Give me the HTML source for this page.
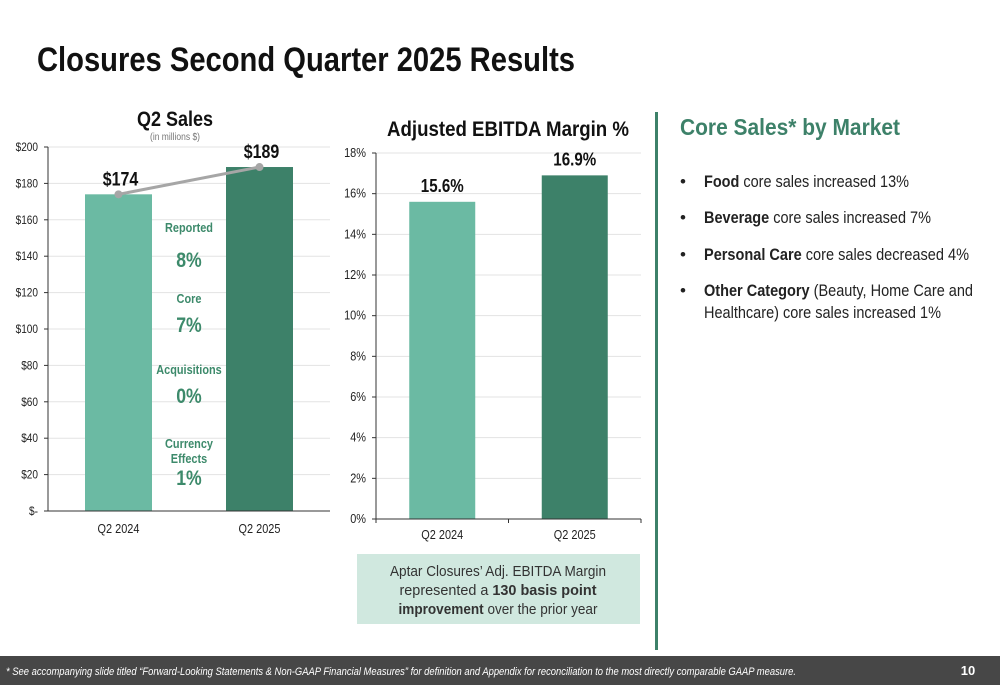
<!DOCTYPE html>
<html><head><meta charset="utf-8"><style>
body{margin:0;background:#fff;}
svg{display:block;font-family:"Liberation Sans",sans-serif;}
</style></head><body>
<svg id="s" width="1000" height="685" viewBox="0 0 1000 685">
<text x="37" y="71" font-size="34" font-weight="bold" fill="#111" textLength="538" lengthAdjust="spacingAndGlyphs">Closures Second Quarter 2025 Results</text>

<g id="c1">
<text x="175" y="126" font-size="21" font-weight="bold" text-anchor="middle" fill="#111" textLength="76" lengthAdjust="spacingAndGlyphs">Q2 Sales</text>
<text x="175" y="140" font-size="10" text-anchor="middle" fill="#777" textLength="50" lengthAdjust="spacingAndGlyphs">(in millions $)</text>
</g>
<g id="c2">
<text x="508" y="136" font-size="21" font-weight="bold" text-anchor="middle" fill="#111" textLength="242" lengthAdjust="spacingAndGlyphs">Adjusted EBITDA Margin %</text>
</g>

<rect x="357" y="554" width="283" height="70" fill="#d0e8df"/>
<g font-size="15" fill="#333" text-anchor="middle">
<text x="498" y="576" textLength="216" lengthAdjust="spacingAndGlyphs">Aptar Closures’ Adj. EBITDA Margin</text>
<text x="498" y="595" textLength="197" lengthAdjust="spacingAndGlyphs">represented a <tspan font-weight="bold">130 basis point</tspan></text>
<text x="498" y="614" textLength="199" lengthAdjust="spacingAndGlyphs"><tspan font-weight="bold">improvement</tspan> over the prior year</text>
</g>

<rect x="655" y="112" width="3" height="538" fill="#3d8169"/>

<text x="680" y="135" font-size="23" font-weight="bold" fill="#3d8169" textLength="220" lengthAdjust="spacingAndGlyphs">Core Sales* by Market</text>
<g font-size="17" fill="#222">
<text x="680" y="187">•</text><text x="704" y="187" textLength="205" lengthAdjust="spacingAndGlyphs"><tspan font-weight="bold">Food</tspan> core sales increased 13%</text>
<text x="680" y="223">•</text><text x="704" y="223" textLength="227" lengthAdjust="spacingAndGlyphs"><tspan font-weight="bold">Beverage</tspan> core sales increased 7%</text>
<text x="680" y="260">•</text><text x="704" y="260" textLength="265" lengthAdjust="spacingAndGlyphs"><tspan font-weight="bold">Personal Care</tspan> core sales decreased 4%</text>
<text x="680" y="296">•</text><text x="704" y="296" textLength="269" lengthAdjust="spacingAndGlyphs"><tspan font-weight="bold">Other Category</tspan> (Beauty, Home Care and</text>
<text x="704" y="318" textLength="237" lengthAdjust="spacingAndGlyphs">Healthcare) core sales increased 1%</text>
</g>

<rect x="0" y="656" width="1000" height="29" fill="#474747"/>
<text x="6" y="675" font-size="11" font-style="italic" fill="#fff" textLength="790" lengthAdjust="spacingAndGlyphs">* See accompanying slide titled “Forward-Looking Statements &amp; Non-GAAP Financial Measures” for definition and Appendix for reconciliation to the most directly comparable GAAP measure.</text>
<text x="968" y="675" font-size="13" font-weight="bold" fill="#fff" text-anchor="middle">10</text>
</svg>
<script>
const salesCategories=["Q2 2024","Q2 2025"];
const salesValues=[174,189];
const salesLabels=["$174","$189"];
const salesTicks=[0,20,40,60,80,100,120,140,160,180,200];
const marginCategories=["Q2 2024","Q2 2025"];
const marginValues=[15.6,16.9];
const marginLabels=["15.6%","16.9%"];
const marginTicks=[0,2,4,6,8,10,12,14,16,18];
const changeNames=["Reported","Core","Acquisitions","Currency|Effects"];
const changeValues=["8%","7%","0%","1%"];
const colors=["#6bbaa3","#3d8169"];
const NS="http://www.w3.org/2000/svg";
const narrowList=[];
function mk(parent,tag,attrs,txt){const e=document.createElementNS(NS,tag);for(const k in attrs)e.setAttribute(k,attrs[k]);if(txt!==undefined)e.textContent=txt;parent.appendChild(e);if(tag==='text')narrowList.push(e);return e;}

// chart 1
(function(){
const g=document.getElementById('c1');
const x0=48,x1=330,yTop=147,yBot=511,max=200;
const y=v=>yBot-(v/max)*(yBot-yTop);
const cx=i=>x0+(x1-x0)*(i+0.5)/salesCategories.length;
const bw=67;
salesTicks.forEach(t=>{
 if(t>0){const l=mk(g,'line',{x1:x0,x2:x1,y1:y(t),y2:y(t),stroke:'#e3e3e3','stroke-width':1});
 
 }
 const tx=mk(g,'text',{x:38,y:y(t)+4,'font-size':12,'text-anchor':'end',fill:'#222'},t===0?'$-':'$'+t);
 
 
 mk(g,'line',{x1:x0-4,x2:x0,y1:y(t),y2:y(t),stroke:'#333'});
});
salesValues.forEach((v,i)=>{
 const r=mk(g,'rect',{x:cx(i)-bw/2,y:y(v),width:bw,height:yBot-y(v),fill:colors[i]});
 
 
 const c=mk(g,'text',{x:cx(i),y:533,'font-size':13,'text-anchor':'middle',fill:'#222'},salesCategories[i]);
 
 
});
mk(g,'line',{x1:x0,x2:x0,y1:yTop,y2:yBot,stroke:'#333'});
mk(g,'line',{x1:x0,x2:x1,y1:yBot,y2:yBot,stroke:'#333'});
const pl=mk(g,'polyline',{points:salesValues.map((v,i)=>cx(i)+','+y(v)).join(' '),fill:'none',stroke:'#a6a6a6','stroke-width':3});


salesValues.forEach((v,i)=>{
 const d=mk(g,'circle',{cx:cx(i),cy:y(v),r:4,fill:'#a6a6a6'});
 
 
 const t=mk(g,'text',{x:cx(i)+2,y:y(v)-9,'font-size':19,'font-weight':'bold','text-anchor':'middle',fill:'#111'},salesLabels[i]);
 
 
});
const mx=189,ys=[[232,267],[303,332],[374,403],[448,485]];
changeNames.forEach((n,i)=>{
 const parts=n.split('|');
 parts.forEach((p,j)=>{
  const t=mk(g,'text',{x:mx,y:ys[i][0]+j*15,'font-size':13,'font-weight':'bold','text-anchor':'middle',fill:'#3d8a6b'},p);
  
  
 });
 const v=mk(g,'text',{x:mx,y:ys[i][1],'font-size':21,'font-weight':'bold','text-anchor':'middle',fill:'#3d8a6b'},changeValues[i]);
 
 
});
})();

// chart 2
(function(){
const g=document.getElementById('c2');
const x0=376,x1=641,yTop=153,yBot=519,max=18;
const y=v=>yBot-(v/max)*(yBot-yTop);
const cx=i=>x0+(x1-x0)*(i+0.5)/marginCategories.length;
const bw=66;
marginTicks.forEach(t=>{
 if(t>0){const l=mk(g,'line',{x1:x0,x2:x1,y1:y(t),y2:y(t),stroke:'#e3e3e3'});
 
 }
 const tx=mk(g,'text',{x:366,y:y(t)+4,'font-size':13,'text-anchor':'end',fill:'#222'},t+'%');
 
 
 mk(g,'line',{x1:x0-4,x2:x0,y1:y(t),y2:y(t),stroke:'#333'});
});
marginValues.forEach((v,i)=>{
 const r=mk(g,'rect',{x:cx(i)-bw/2,y:y(v),width:bw,height:yBot-y(v),fill:colors[i]});
 
 
 const t=mk(g,'text',{x:cx(i),y:y(v)-10,'font-size':18,'font-weight':'bold','text-anchor':'middle',fill:'#111'},marginLabels[i]);
 
 
 const c=mk(g,'text',{x:cx(i),y:539,'font-size':13,'text-anchor':'middle',fill:'#222'},marginCategories[i]);
 
 
});
mk(g,'line',{x1:x0,x2:x0,y1:yTop,y2:yBot,stroke:'#333'});
mk(g,'line',{x1:x0,x2:x1,y1:yBot,y2:yBot,stroke:'#333'});
[x0,(x0+x1)/2,x1].forEach(x=>mk(g,'line',{x1:x,x2:x,y1:yBot,y2:yBot+4,stroke:'#333'}));
})();

// condense generated labels to mimic a narrow typeface
narrowList.forEach(t=>{
 const len=t.getComputedTextLength();
 if(len>0){t.setAttribute('textLength',(len*0.84).toFixed(1));t.setAttribute('lengthAdjust','spacingAndGlyphs');}
});
</script>
</body></html>
